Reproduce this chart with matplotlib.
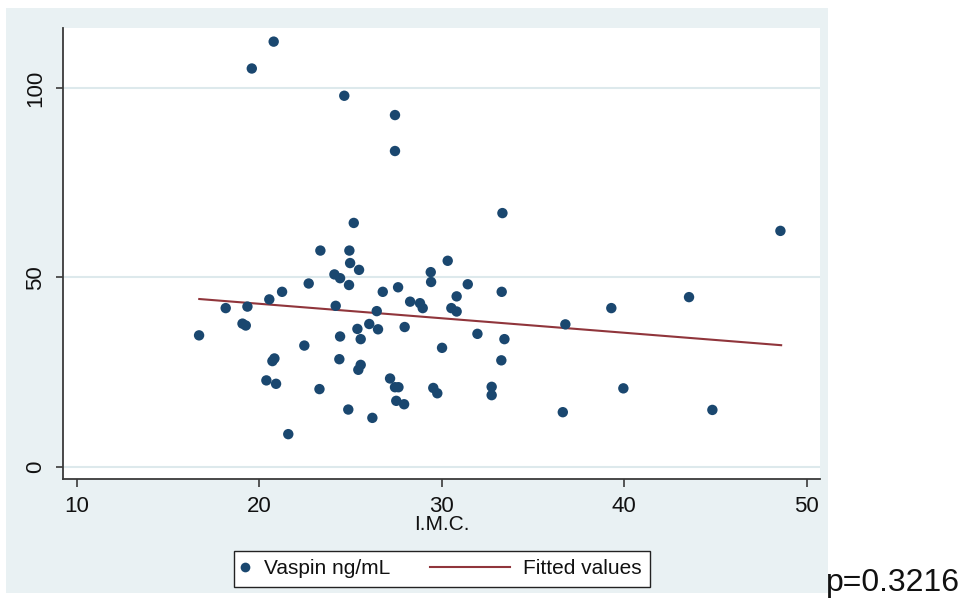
import matplotlib
matplotlib.use("Agg")
import matplotlib.pyplot as plt
from matplotlib.patches import Rectangle
from matplotlib.lines import Line2D
from matplotlib.legend_handler import HandlerBase

plt.rcParams['font.family'] = ['Liberation Sans', 'DejaVu Sans']

# ---- data ----
imc = [20.78, 19.58, 24.65, 27.43, 27.43, 33.32, 48.56, 33.28, 43.55, 39.29,
       36.77, 31.95, 33.43, 33.26, 32.73, 32.73, 39.95, 36.63, 44.83, 16.69,
       18.15, 19.34, 19.07, 19.25, 20.54, 21.24, 22.70, 23.34, 24.93, 24.97,
       25.46, 24.11, 24.42, 24.91, 24.18, 26.76, 27.60, 29.39, 29.41, 30.32,
       28.26, 28.80, 28.95, 30.52, 30.81, 26.43, 26.02, 26.50, 25.37, 25.55,
       24.42, 27.96, 30.01, 22.46, 20.71, 20.82, 24.38, 25.55, 25.42, 20.38,
       20.91, 23.29, 27.16, 27.43, 27.62, 27.50, 27.93, 29.53, 29.75, 24.87,
       26.19, 21.58, 25.17, 31.42, 30.81]
vaspin = [112.3, 105.2, 98.0, 92.9, 83.4, 67.0, 62.3, 46.2, 44.8, 41.9,
          37.6, 35.1, 33.7, 28.1, 21.1, 18.9, 20.7, 14.4, 15.0, 34.7,
          41.9, 42.3, 37.8, 37.3, 44.2, 46.2, 48.4, 57.1, 57.1, 53.8,
          52.0, 50.8, 49.8, 48.0, 42.5, 46.2, 47.4, 51.4, 48.8, 54.4,
          43.6, 43.2, 41.9, 41.9, 41.0, 41.1, 37.7, 36.3, 36.4, 33.7,
          34.4, 36.9, 31.4, 32.0, 27.9, 28.6, 28.4, 26.9, 25.6, 22.8,
          21.9, 20.5, 23.3, 21.0, 21.0, 17.4, 16.5, 20.8, 19.4, 15.1,
          12.9, 8.6, 64.4, 48.2, 45.0]
fit_x = [16.7, 48.6]
fit_y = [44.3, 32.1]

x_ticks = [10, 20, 30, 40, 50]
y_ticks = [0, 50, 100]
x_label = "I.M.C."
series_labels = ["Vaspin ng/mL", "Fitted values"]
p_text = "p=0.3216"

NAVY = '#1a476f'
MAROON = '#90353b'
BG = '#e9f1f3'
GRID = '#dde9ec'
AXC = '#3a3a3a'

W, H = 966, 599
fig = plt.figure(figsize=(W / 100, H / 100), dpi=100)
fig.patch.set_facecolor('white')
bg = Rectangle((6 / W, 1 - 593 / H), (828 - 6) / W, (593 - 8) / H,
               transform=fig.transFigure, facecolor=BG,
               edgecolor='none', zorder=-5)
fig.add_artist(bg)

ax = fig.add_axes([63 / W, 1 - 479 / H, (820 - 63) / W, (479 - 28) / H])
ax.set_zorder(2)
ax.set_facecolor('white')
ax.set_xlim(9.23, 50.73)
ax.set_ylim(-3.25, 115.9)

for s in ['top', 'right']:
    ax.spines[s].set_visible(False)
for s in ['left', 'bottom']:
    ax.spines[s].set_color(AXC)
    ax.spines[s].set_linewidth(1.3)

ax.set_xticks(x_ticks)
ax.set_yticks(y_ticks)
ax.tick_params(axis='both', direction='out', color=AXC, width=1.2,
               labelsize=16, labelcolor='#111111')
ax.tick_params(axis='x', length=6, pad=6)
ax.tick_params(axis='y', length=5, pad=7)
for lab in ax.get_yticklabels():
    lab.set_rotation(90)
    lab.set_va('center')

ax.yaxis.grid(True, color=GRID, linewidth=1.5)
ax.xaxis.grid(False)
ax.set_axisbelow(True)

ax.set_xlabel(x_label, fontsize=15, labelpad=-1, color='#111111')

ax.plot(fit_x, fit_y, color=MAROON, linewidth=1.5, zorder=2)
ax.scatter(imc, vaspin, s=56, color=NAVY, edgecolors='none', zorder=3)


class MarkerHandler(HandlerBase):
    def create_artists(self, legend, orig_handle, xdescent, ydescent,
                       width, height, fontsize, trans):
        yc = -ydescent + height / 2
        ln = Line2D([-xdescent + 2.0], [yc], marker='o', linestyle='',
                    color=NAVY, markersize=7, markeredgewidth=0)
        ln.set_transform(trans)
        return [ln]


class LineHandler(HandlerBase):
    def create_artists(self, legend, orig_handle, xdescent, ydescent,
                       width, height, fontsize, trans):
        yc = -ydescent + height / 2
        ln = Line2D([-xdescent - 51.3, -xdescent + 6.3], [yc, yc],
                    color=MAROON, linewidth=1.5)
        ln.set_transform(trans)
        return [ln]


h1 = Line2D([], [], marker='o', linestyle='', color=NAVY)
h2 = Line2D([], [], color=MAROON)
leg = fig.legend([h1, h2], series_labels, loc='center',
                 bbox_to_anchor=(442 / W, 1 - 569 / H),
                 bbox_transform=fig.transFigure, ncol=2, fontsize=15,
                 frameon=True, fancybox=False, shadow=False, framealpha=1,
                 handlelength=0.6, handletextpad=0.44, columnspacing=5.3,
                 borderpad=0.4,
                 handler_map={h1: MarkerHandler(), h2: LineHandler()})
leg.get_frame().set_edgecolor('#222222')
leg.get_frame().set_linewidth(1.0)
leg.get_frame().set_facecolor('white')
for t in leg.get_texts():
    t.set_color('#111111')

fig.text(826 / W, 1 - 591 / H, p_text, fontsize=23, ha='left', va='baseline',
         color='#111111')

fig.savefig('out.png', dpi=100)
